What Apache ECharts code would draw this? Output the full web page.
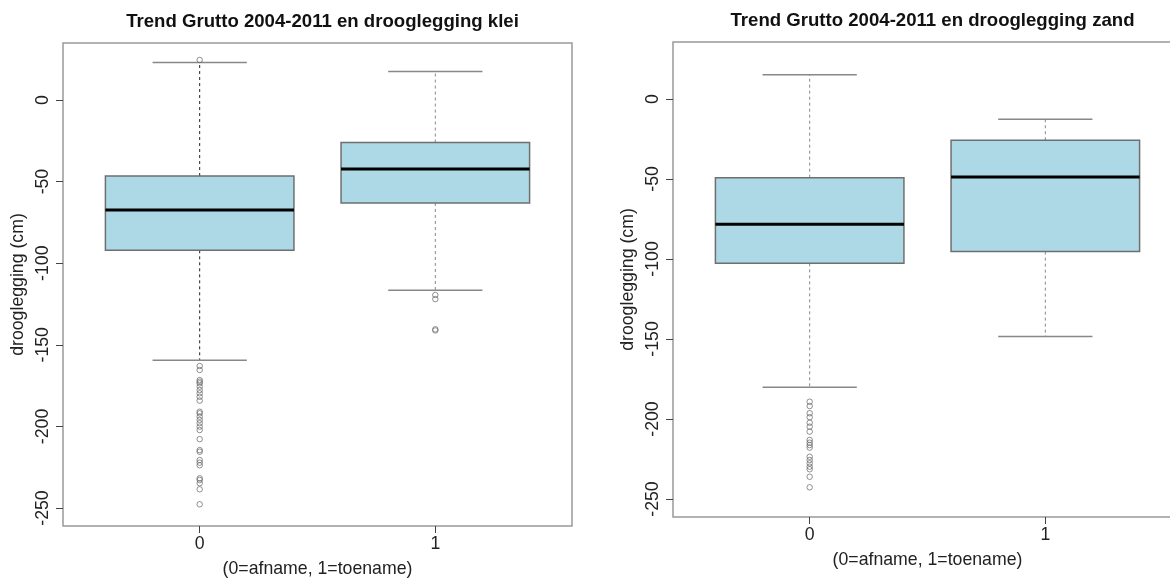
<!DOCTYPE html>
<html><head><meta charset="utf-8">
<script src="https://cdn.jsdelivr.net/npm/echarts@6/dist/echarts.min.js"></script>
<style>html,body{margin:0;padding:0;background:#fff}#c{width:1170px;height:581px}</style>
</head><body><div id="c"></div>
<script>
// ---------- data ----------
const groups = [0, 1];
const xTickLabels = ['0', '1'];
const yTicks = [0, -50, -100, -150, -200, -250];
const titleKlei = 'Trend Grutto 2004-2011 en drooglegging klei';
const titleZand = 'Trend Grutto 2004-2011 en drooglegging zand';
const yName = 'drooglegging (cm)';
const xName = '(0=afname, 1=toename)';
// [lower whisker, Q1, median, Q3, upper whisker]
const kleiStats = [
  [-159.5, -92.1, -67.4, -46.6, 22.9],
  [-116.6, -63.1, -42.3, -26.1, 17.4]
];
const kleiOutliers0 = [24.5, -163, -165.4, -171.6, -172.6, -173.6, -175.6, -177.7, -179.7, -181.8, -184.2,
  -191, -192, -194, -196, -198, -200.1, -202.2, -207.8, -214.5, -215.5, -220.6, -222.2, -223.8,
  -231.8, -232.8, -234.8, -238.5, -247.7];
const kleiOutliers1 = [-119.5, -122, -140.5, -141.2];
const zandStats = [
  [-180.2, -102.7, -78.3, -49.2, 15.2],
  [-148.5, -95.4, -48.75, -25.8, -12.7]
];
const zandOutliers0 = [-189.2, -191.9, -196.4, -198.9, -202.3, -204.8, -207.9, -213.1, -214.8, -216.3,
  -217.9, -223.6, -225.6, -227.7, -229.8, -231.4, -236.1, -242.7];
const zandOutliers1 = [];

// ---------- styles ----------
const FONT = '"Liberation Sans", Arial, sans-serif';
const AXIS_FS = 17.7;
const BOX_HALF = 0.4, STAPLE_HALF = 0.2;
const whiskerColors = [['#222', '#888'], ['#888', '#888']];

function boxRender(panel) {
  return function (params, api) {
    const x = api.value(0);
    const lo = api.value(1), q1 = api.value(2), med = api.value(3), q3 = api.value(4), hi = api.value(5);
    const c = (a, b) => api.coord([a, b]);
    const pLo = c(x, lo), pQ1 = c(x, q1), pQ3 = c(x, q3), pHi = c(x, hi);
    const b1 = c(x - BOX_HALF, q3), b2 = c(x + BOX_HALF, q1);
    const m1 = c(x - BOX_HALF, med), m2 = c(x + BOX_HALF, med);
    const sh1 = c(x - STAPLE_HALF, hi), sh2 = c(x + STAPLE_HALF, hi);
    const sl1 = c(x - STAPLE_HALF, lo), sl2 = c(x + STAPLE_HALF, lo);
    const wc = whiskerColors[panel][params.dataIndex];
    const dash = {stroke: wc, lineWidth: 1, lineDash: [3, 3]};
    const staple = {stroke: '#888', lineWidth: 1.5};
    return {type: 'group', children: [
      {type: 'line', shape: {x1: pQ3[0], y1: pQ3[1], x2: pHi[0], y2: pHi[1]}, style: dash},
      {type: 'line', shape: {x1: pQ1[0], y1: pQ1[1], x2: pLo[0], y2: pLo[1]}, style: dash},
      {type: 'line', shape: {x1: sh1[0], y1: sh1[1], x2: sh2[0], y2: sh2[1]}, style: staple},
      {type: 'line', shape: {x1: sl1[0], y1: sl1[1], x2: sl2[0], y2: sl2[1]}, style: staple},
      {type: 'rect', shape: {x: b1[0], y: b1[1], width: b2[0] - b1[0], height: b2[1] - b1[1]},
        style: {fill: '#ADD8E6', stroke: '#6f6f6f', lineWidth: 1.5}},
      {type: 'line', shape: {x1: m1[0], y1: m1[1], x2: m2[0], y2: m2[1]}, style: {stroke: '#000', lineWidth: 3}}
    ]};
  };
}

const grids = [
  {left: 63, top: 43, width: 509, height: 483, show: true, borderColor: '#999', borderWidth: 1.5,
    backgroundColor: 'transparent', outerBoundsMode: 'none', containLabel: false},
  {left: 673, top: 42, width: 509, height: 475, show: true, borderColor: '#999', borderWidth: 1.5,
    backgroundColor: 'transparent', outerBoundsMode: 'none', containLabel: false}
];
const yRanges = [[-261, 34.9], [-261.25, 35.6]];

function xAxisFor(i) {
  return {
    type: 'value', gridIndex: i, min: -0.58, max: 1.58, position: 'bottom',
    axisLine: {show: false, onZero: false}, splitLine: {show: false},
    axisTick: {show: true, length: 7, inside: false, customValues: groups, lineStyle: {color: '#444', width: 1}},
    axisLabel: {show: true, customValues: groups, margin: 9.5, fontSize: AXIS_FS, fontFamily: FONT, color: '#222',
      formatter: v => xTickLabels[groups.indexOf(v)]},
    name: xName, nameLocation: 'middle', nameGap: 34,
    nameTextStyle: {fontSize: AXIS_FS, fontFamily: FONT, color: '#222'}
  };
}
function yAxisFor(i) {
  return {
    type: 'value', gridIndex: i, min: yRanges[i][0], max: yRanges[i][1], position: 'left',
    axisLine: {show: false, onZero: false}, splitLine: {show: false},
    axisTick: {show: true, length: 7, inside: false, customValues: yTicks, lineStyle: {color: '#444', width: 1}},
    axisLabel: {show: true, customValues: yTicks, rotate: 90, margin: 11, fontSize: AXIS_FS, fontFamily: FONT, color: '#222'},
    name: yName, nameLocation: 'middle', nameGap: 36, nameRotate: 90,
    nameTextStyle: {fontSize: AXIS_FS, fontFamily: FONT, color: '#222'}
  };
}

const statsList = [kleiStats, zandStats];
const outlierList = [[kleiOutliers0, kleiOutliers1], [zandOutliers0, zandOutliers1]];
const series = [];
[0, 1].forEach(p => {
  series.push({
    type: 'custom', xAxisIndex: p, yAxisIndex: p, renderItem: boxRender(p), clip: false,
    data: groups.map((g, k) => [g].concat(statsList[p][k])), silent: true, z: 2
  });
  series.push({
    type: 'scatter', xAxisIndex: p, yAxisIndex: p, symbol: 'circle', symbolSize: 5.5, silent: true, z: 3,
    itemStyle: {color: 'transparent', borderColor: '#666', borderWidth: 0.9},
    data: [].concat(...groups.map((g, k) => outlierList[p][k].map(v => [g, v])))
  });
});

const chart = echarts.init(document.getElementById('c'), null, {renderer: 'canvas'});
chart.setOption({
  animation: false,
  backgroundColor: '#fff',
  title: [
    {text: titleKlei, left: 317.5, top: 7, textAlign: 'center', textStyle: {fontSize: 18.6, fontWeight: 'bold', fontFamily: FONT, color: '#111'}},
    {text: titleZand, left: 927.5, top: 6, textAlign: 'center', textStyle: {fontSize: 18.6, fontWeight: 'bold', fontFamily: FONT, color: '#111'}}
  ],
  grid: grids,
  xAxis: [xAxisFor(0), xAxisFor(1)],
  yAxis: [yAxisFor(0), yAxisFor(1)],
  series: series
});
</script></body></html>
